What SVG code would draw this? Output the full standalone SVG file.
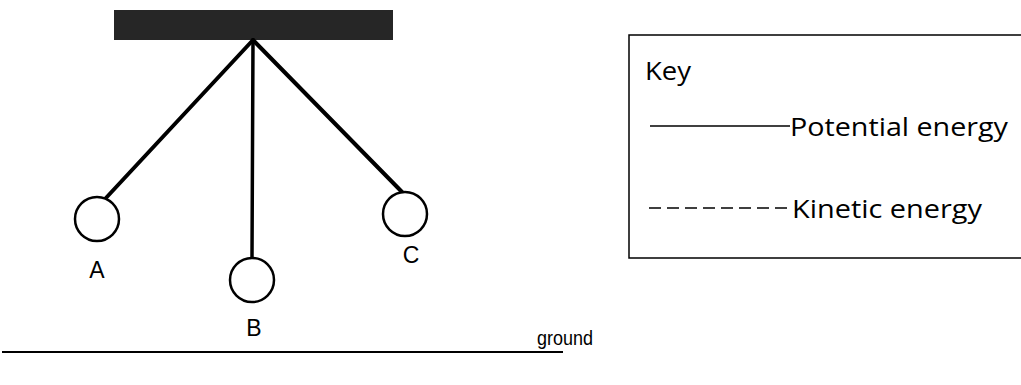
<svg xmlns="http://www.w3.org/2000/svg" width="1021" height="385" viewBox="0 0 1021 385">
<style>
.str{stroke:#000;stroke-width:4;fill:none;stroke-linecap:round}
.bob{fill:#fff;stroke:#000;stroke-width:2.5}
.lbl{font-family:"Liberation Sans",Arial,sans-serif;font-size:23px;fill:#000;text-anchor:middle}
.key{font-family:"Open Sans","Noto Sans",sans-serif;font-size:25px;fill:#000}
</style>
<rect width="1021" height="385" fill="#fff"/>
<g id="support"><rect x="114" y="10" width="279" height="30" fill="#262626"/></g>
<g id="connectors">
<line class="str" x1="253" y1="40" x2="105" y2="199"/>
<line class="str" x1="253" y1="40" x2="252" y2="258" style="stroke-width:3.5"/>
<line class="str" x1="253" y1="40" x2="403" y2="193"/>
</g>
<g id="bob-A"><circle class="bob" cx="97" cy="219" r="22"/><text class="lbl" x="97" y="278">A</text></g>
<g id="bob-B"><circle class="bob" cx="252" cy="280" r="22"/><text class="lbl" x="254" y="336">B</text></g>
<g id="bob-C"><circle class="bob" cx="405" cy="214" r="22"/><text class="lbl" x="411" y="263">C</text></g>
<g id="key">
<path d="M1030 35 H629 V258 H1030" fill="none" stroke="#000" stroke-width="1.5"/>
<text class="key" x="645" y="80" textLength="46" lengthAdjust="spacingAndGlyphs">Key</text>
<line x1="650" y1="126" x2="790" y2="126" stroke="#000" stroke-width="1.5"/>
<text class="key" x="790" y="136" textLength="218" lengthAdjust="spacingAndGlyphs">Potential energy</text>
<line x1="649" y1="208" x2="790" y2="208" stroke="#000" stroke-width="1.5" stroke-dasharray="12,6"/>
<text class="key" x="792" y="218" textLength="190" lengthAdjust="spacingAndGlyphs">Kinetic energy</text>
</g>
<g id="ground">
<line x1="2" y1="352" x2="563" y2="352" stroke="#000" stroke-width="2"/>
<text x="537" y="345" textLength="56" lengthAdjust="spacingAndGlyphs" style="font-family:'Liberation Sans',Arial,sans-serif;font-size:21px">ground</text>
</g>
</svg>
